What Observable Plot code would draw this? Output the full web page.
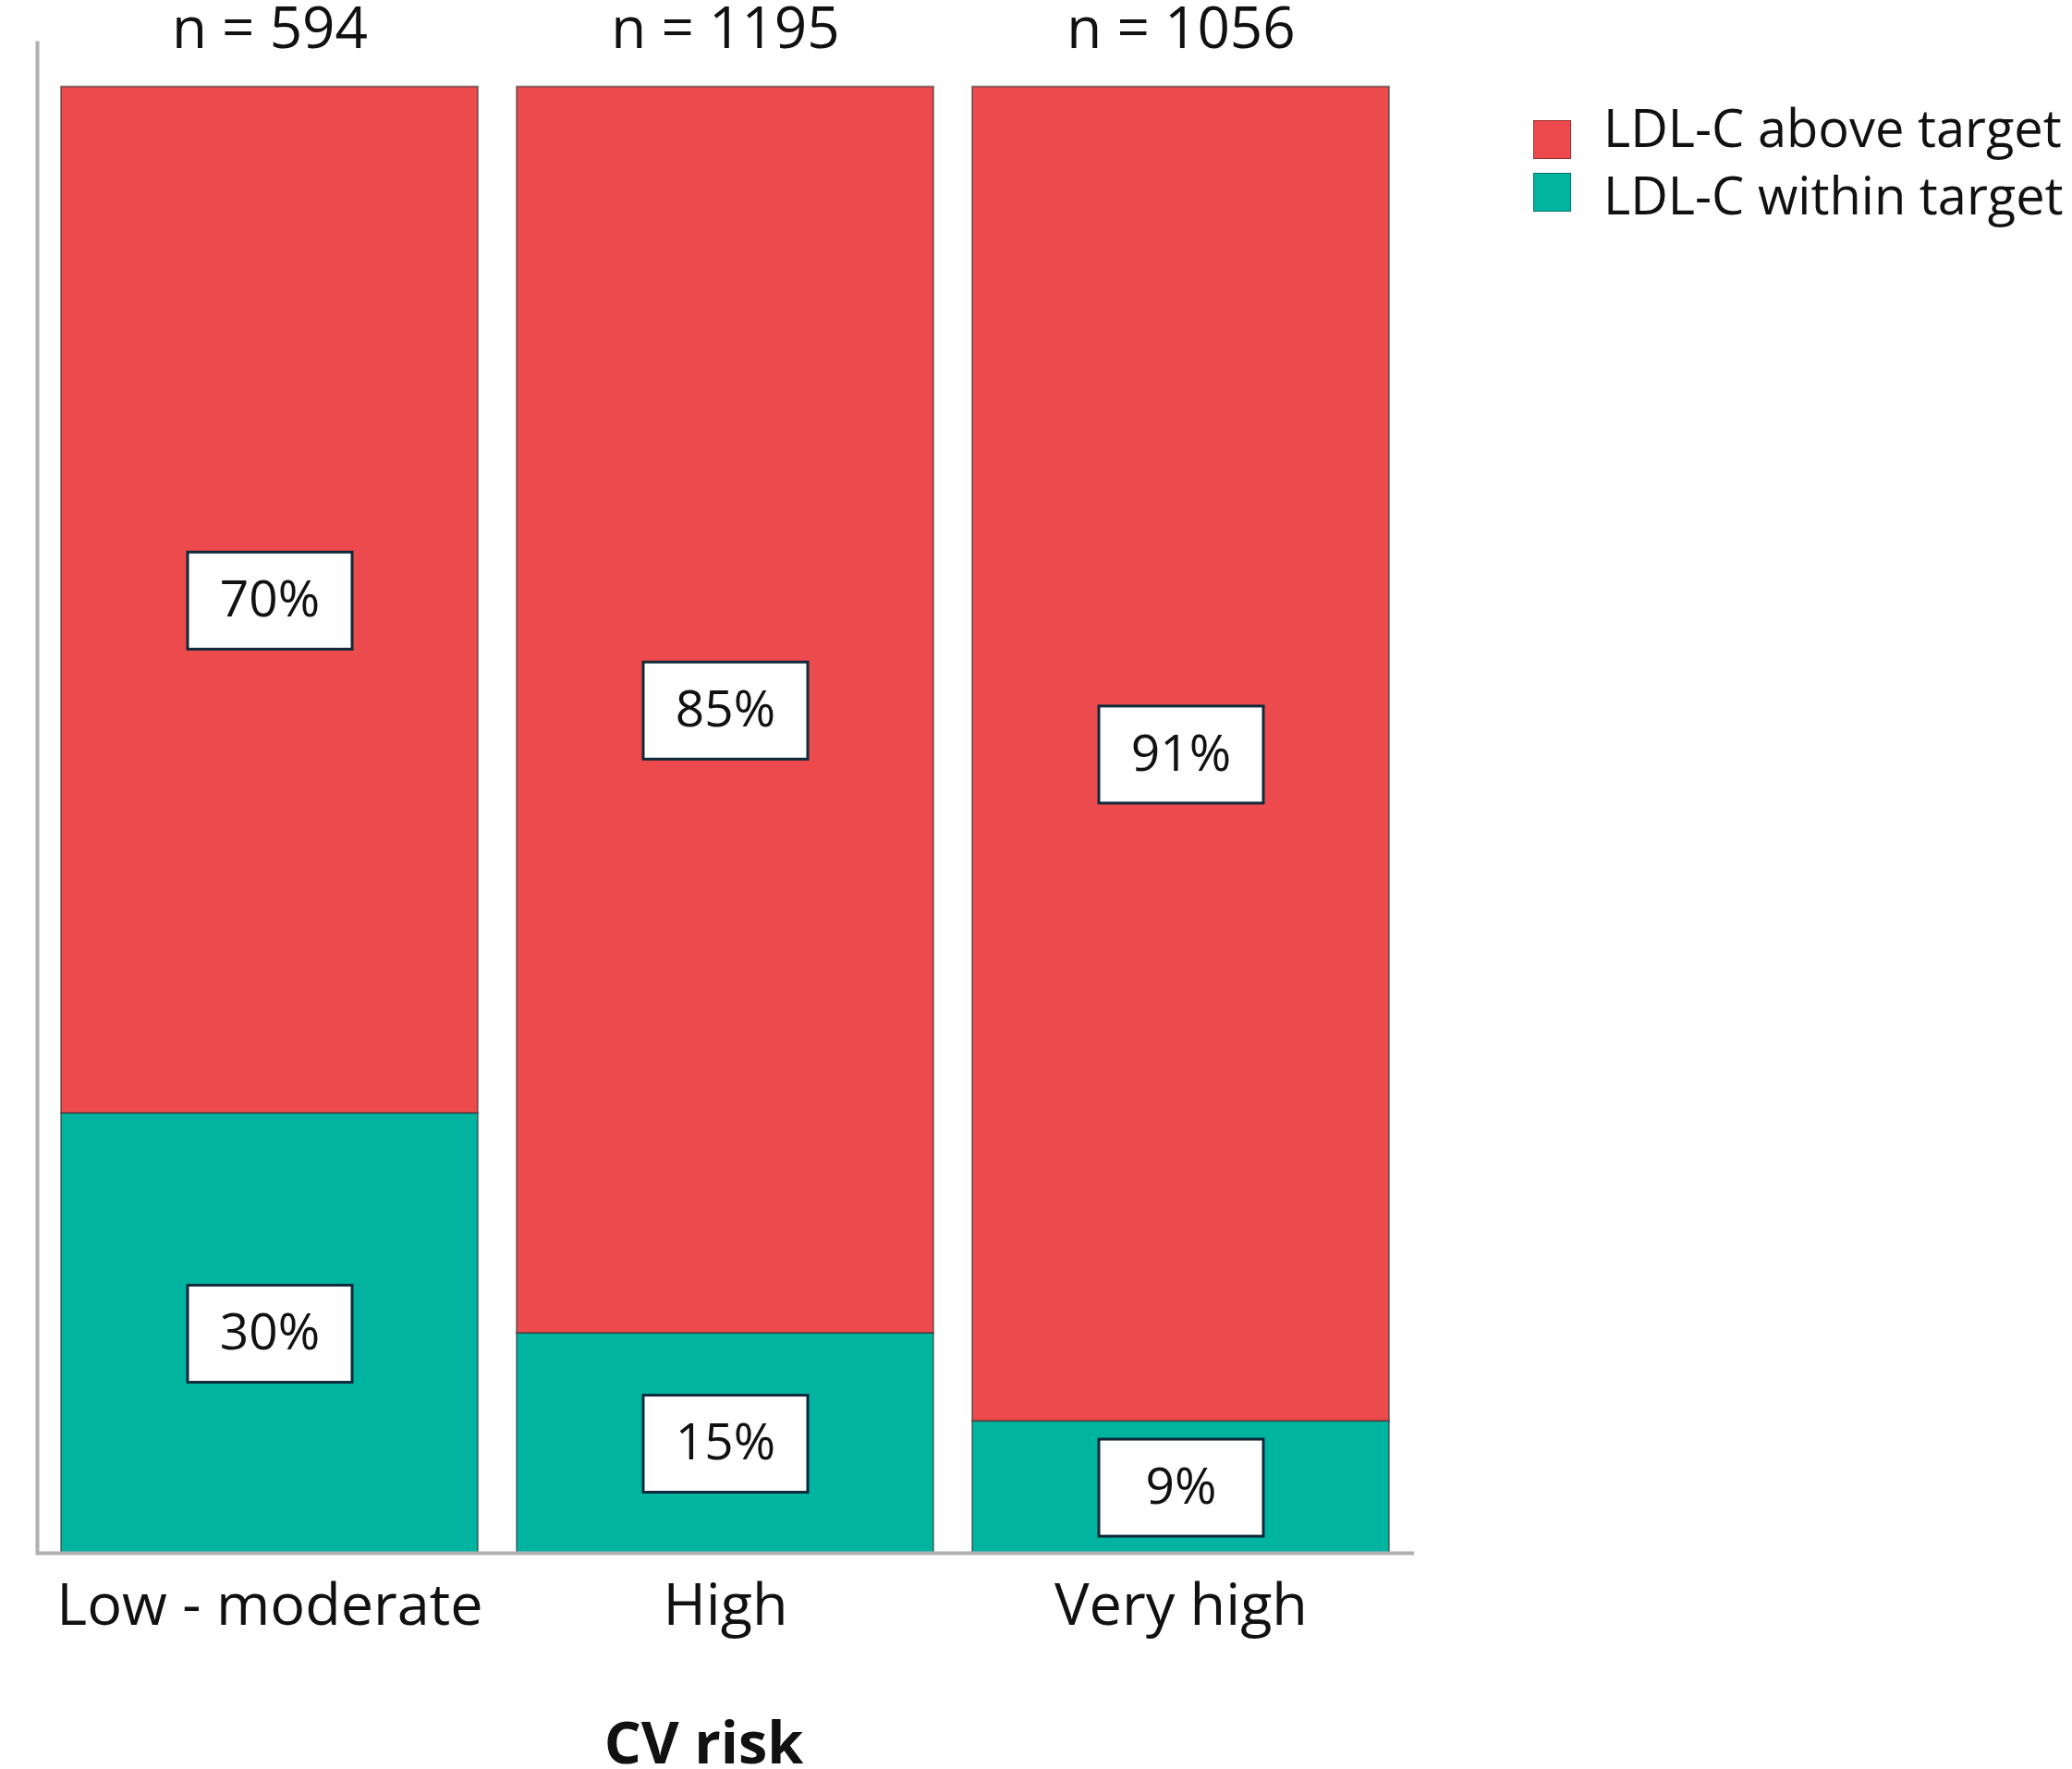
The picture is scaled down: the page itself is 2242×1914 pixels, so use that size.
<!DOCTYPE html>
<html>
<head>
<meta charset="utf-8">
<script src="https://cdn.jsdelivr.net/npm/d3@7"></script>
<script src="https://cdn.jsdelivr.net/npm/@observablehq/plot@0.6"></script>
<style>
  html, body { margin: 0; padding: 0; background: #fff; }
  #wrap { position: relative; width: 2242px; height: 1914px; font-family: "Open Sans", sans-serif; }
  #swatches { position: absolute; left: 1659px; top: 130px; }
  .sw { width: 41px; height: 42px; box-sizing: border-box; border: 1.5px solid rgba(0,0,0,0.35); margin-bottom: 15px; }
  #labels { position: absolute; left: 1735px; top: 101px; font-size: 56px; line-height: 73px; color: #111; white-space: nowrap; }
</style>
</head>
<body>
<div id="wrap"></div>
<script>
const categories = ["Low - moderate", "High", "Very high"];
const nCounts = [594, 1195, 1056];
const aboveTarget = [70, 85, 91];
const withinTarget = [30, 15, 9];
const seriesNames = ["LDL-C above target", "LDL-C within target"];
const seriesColors = ["#EC4A4C", "#00B4A0"];

const table = [];
categories.forEach((c, i) => {
  table.push({cat: c, series: seriesNames[1], value: withinTarget[i]});
  table.push({cat: c, series: seriesNames[0], value: aboveTarget[i]});
});
const totals = categories.map((c, i) => ({cat: c, n: nCounts[i], total: aboveTarget[i] + withinTarget[i]}));
const order = [seriesNames[1], seriesNames[0]];

function boxed(index, scales, values, dimensions, context, next) {
  const g = next(index, scales, values, dimensions, context);
  const ns = "http://www.w3.org/2000/svg";
  const first = g.firstChild;
  for (const i of index) {
    const r = document.createElementNS(ns, "rect");
    r.setAttribute("x", values.x[i] - 89);
    r.setAttribute("y", values.y[i] - 52);
    r.setAttribute("width", 178);
    r.setAttribute("height", 105);
    r.setAttribute("fill", "#fff");
    r.setAttribute("stroke", "#0f2a3a");
    r.setAttribute("stroke-width", 3);
    g.insertBefore(r, first);
  }
  return g;
}

const chart = Plot.plot({
  width: 2242,
  height: 1914,
  marginLeft: 40,
  marginRight: 712,
  marginTop: 46,
  marginBottom: 234,
  style: {fontFamily: "Open Sans, sans-serif", background: "#fff"},
  x: {domain: categories, paddingInner: 0.085, paddingOuter: 0.053, label: null},
  y: {domain: [0, 103], axis: null},
  color: {domain: seriesNames, range: seriesColors},
  marks: [
    Plot.barY(table, Plot.stackY({x: "cat", y: "value", z: "series", order, fill: "series", stroke: "#333", strokeOpacity: 0.55, strokeWidth: 2})),
    Plot.text(table, Plot.stackY({x: "cat", y: "value", z: "series", order, text: d => d.value + "%", fontSize: 55, fill: "#111", render: boxed})),
    Plot.text(totals, {x: "cat", y: "total", text: d => "n = " + d.n, fontSize: 62, lineAnchor: "bottom", dy: -42, fill: "#111"}),
    Plot.frame({anchor: "left", stroke: "#b0b0b0", strokeWidth: 4}),
    Plot.ruleY([0], {stroke: "#b0b0b0", strokeWidth: 4}),
    Plot.axisX({tickSize: 0, tickPadding: 33, fontSize: 63, fill: "#111", label: null}),
    Plot.text(["CV risk"], {frameAnchor: "bottom", lineAnchor: "bottom", dy: 227, dx: -24, fontSize: 63, fontWeight: "bold", fill: "#111"})
  ]
});

const wrap = document.getElementById("wrap");
wrap.appendChild(chart);
const sws = document.createElement("div");
sws.id = "swatches";
const labs = document.createElement("div");
labs.id = "labels";
seriesNames.forEach((s, i) => {
  const sw = document.createElement("div");
  sw.className = "sw";
  sw.style.background = seriesColors[i];
  sws.appendChild(sw);
  const t = document.createElement("div");
  t.textContent = s;
  labs.appendChild(t);
});
wrap.appendChild(sws);
wrap.appendChild(labs);
</script>
</body>
</html>
